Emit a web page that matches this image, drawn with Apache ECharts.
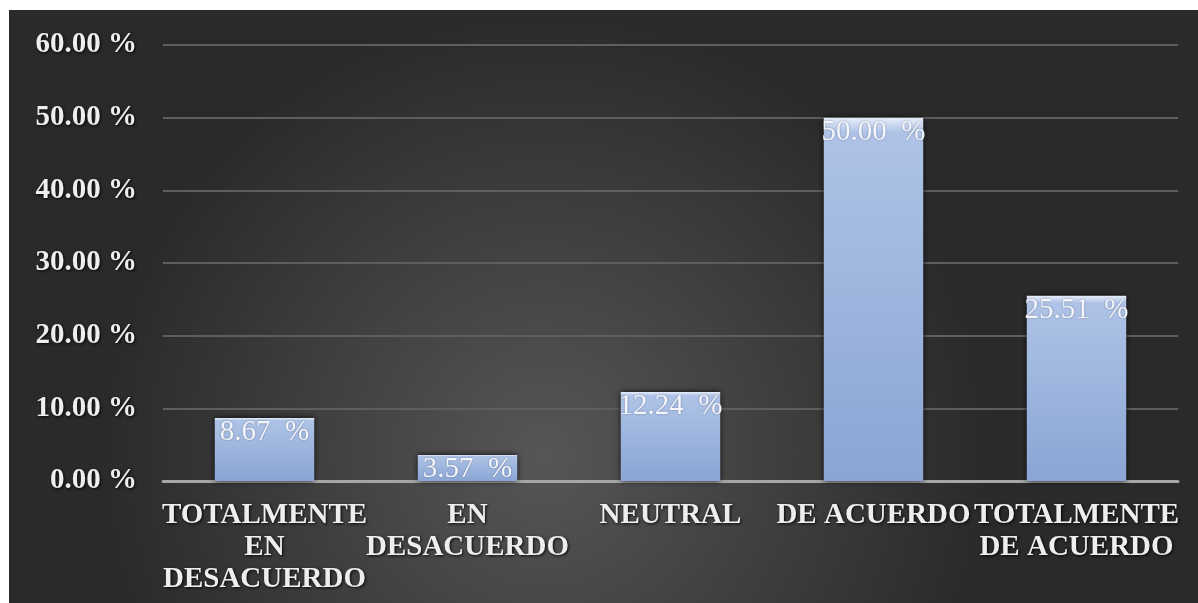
<!DOCTYPE html>
<html>
<head>
<meta charset="utf-8">
<script src="https://cdn.jsdelivr.net/npm/echarts@6/dist/echarts.min.js"></script>
<style>
  html, body { margin: 0; padding: 0; background: #fff; }
  #chart { position: absolute; left: 9px; top: 10px; width: 1189px; height: 593px; }
</style>
</head>
<body>
<div id="chart"></div>
<script>
// categorias de la escala
var categories = [
  "TOTALMENTE\nEN\nDESACUERDO",
  "EN\nDESACUERDO",
  "NEUTRAL",
  "DE ACUERDO",
  "TOTALMENTE\nDE ACUERDO"
];
// porcentajes
var values = [8.67, 3.57, 12.24, 50.00, 25.51];
var yTicks = [0, 10, 20, 30, 40, 50, 60];

var myChart = echarts.init(document.getElementById("chart"));

var txtShadow = {
  textShadowColor: "rgba(0,0,0,0.9)",
  textShadowBlur: 3,
  textShadowOffsetX: 1,
  textShadowOffsetY: 1
};

var option = {
  backgroundColor: {
    type: "radial",
    x: 0.45, y: 0.75, r: 0.75,
    colorStops: [
      { offset: 0, color: "#565656" },
      { offset: 1, color: "#2a2a2a" }
    ]
  },
  animation: false,
  grid: { left: 154, right: 20, top: 35, bottom: 122 },
  xAxis: {
    type: "category",
    data: categories,
    axisLine: { lineStyle: { color: "#a6a6a6", width: 3 } },
    axisTick: { show: false },
    axisLabel: Object.assign({
      color: "#eeeeee",
      fontFamily: "Liberation Serif",
      fontWeight: "bold",
      fontSize: 29,
      lineHeight: 32,
      margin: 19,
      interval: 0
    }, txtShadow)
  },
  yAxis: {
    type: "value",
    min: yTicks[0],
    max: yTicks[yTicks.length - 1],
    interval: 10,
    axisLine: { show: false },
    axisTick: { show: false },
    splitLine: { lineStyle: { color: "#5e5e5e", width: 2 } },
    axisLabel: Object.assign({
      color: "#eeeeee",
      fontFamily: "Liberation Serif",
      fontWeight: "bold",
      fontSize: 29,
      margin: 26,
      formatter: function (v) { return v.toFixed(2) + " %"; }
    }, txtShadow)
  },
  series: [
    {
      type: "bar",
      data: values,
      barWidth: "49%",
      itemStyle: {
        color: {
          type: "linear", x: 0, y: 0, x2: 0, y2: 1,
          colorStops: [
            { offset: 0, color: "#e8eefa" },
            { offset: 0.04, color: "#aec3e6" },
            { offset: 1, color: "#8aa5d4" }
          ]
        },
        shadowColor: "rgba(0,0,0,0.85)",
        shadowBlur: 6,
        shadowOffsetX: 0,
        shadowOffsetY: 0
      },
      label: {
        show: true,
        position: "insideTop",
        distance: 0,
        color: "#f4f6fb",
        fontFamily: "Liberation Serif",
        fontSize: 29,
        formatter: function (p) { return p.value.toFixed(2) + "  %"; },
        textShadowColor: "rgba(60,70,100,0.6)",
        textShadowBlur: 2
      }
    }
  ]
};
myChart.setOption(option);
</script>
</body>
</html>
